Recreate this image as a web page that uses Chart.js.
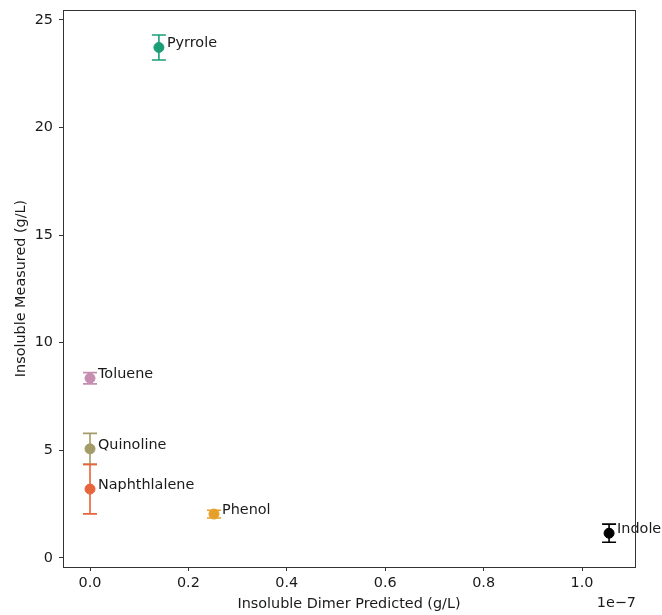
<!DOCTYPE html>
<html>
<head>
<meta charset="utf-8">
<script src="https://cdn.jsdelivr.net/npm/chart.js@4.4.1/dist/chart.umd.min.js"></script>
<style>
  html, body { margin: 0; padding: 0; background: #fff; }
  #wrap { width: 662px; height: 615px; position: relative; }
</style>
</head>
<body>
<div id="wrap"><canvas id="c" width="662" height="615"></canvas></div>
<script>
// ---- data ----
const compounds = ['Pyrrole', 'Toluene', 'Quinoline', 'Naphthlalene', 'Phenol', 'Indole'];
const predicted = [1.40e-8, 0.0, 0.0, 0.0, 2.52e-8, 1.055e-7];   // g/L
const measured = [23.72, 8.35, 5.07, 3.20, 2.04, 1.15];          // g/L
const measuredErr = [0.58, 0.26, 0.72, 1.15, 0.18, 0.42];
const colors = ['#1b9e77', '#c58db0', '#a39b68', '#e8643a', '#e6a02a', '#000000'];
const xTicks = [0, 0.2e-7, 0.4e-7, 0.6e-7, 0.8e-7, 1.0e-7];
const yTicks = [0, 5, 10, 15, 20, 25];

const FONT = 'DejaVu Sans';
const FS = 14.4;
const TXT = '#1a1a1a';

const errorBars = {
  id: 'errorBars',
  beforeDatasetsDraw(chart) {
    const ctx = chart.ctx, xs = chart.scales.x, ys = chart.scales.y;
    ctx.save();
    ctx.lineWidth = 1.6;
    for (let i = 0; i < measured.length; i++) {
      const px = xs.getPixelForValue(predicted[i]);
      const top = ys.getPixelForValue(measured[i] + measuredErr[i]);
      const bot = ys.getPixelForValue(measured[i] - measuredErr[i]);
      ctx.strokeStyle = colors[i];
      ctx.beginPath();
      ctx.moveTo(px, top); ctx.lineTo(px, bot);
      ctx.moveTo(px - 7, top); ctx.lineTo(px + 7, top);
      ctx.moveTo(px - 7, bot); ctx.lineTo(px + 7, bot);
      ctx.stroke();
    }
    ctx.restore();
  }
};

const labelsAndFrame = {
  id: 'labelsAndFrame',
  afterDatasetsDraw(chart) {
    const ctx = chart.ctx, xs = chart.scales.x, ys = chart.scales.y, a = chart.chartArea;
    ctx.save();
    ctx.font = FS + 'px "' + FONT + '"';
    ctx.fillStyle = TXT;
    ctx.textAlign = 'left';
    ctx.textBaseline = 'middle';
    for (let i = 0; i < compounds.length; i++) {
      const px = xs.getPixelForValue(predicted[i]);
      const py = ys.getPixelForValue(measured[i]);
      ctx.fillText(compounds[i], px + 8, py - 4);
    }
    // frame
    ctx.strokeStyle = '#333333';
    ctx.lineWidth = 1;
    ctx.strokeRect(Math.round(a.left) + 0.5, Math.round(a.top) + 0.5,
                   Math.round(a.right - a.left), Math.round(a.bottom - a.top));
    // offset text
    ctx.textAlign = 'right';
    ctx.textBaseline = 'middle';
    ctx.fillText('1e\u22127', a.right + 1, 603);
    ctx.restore();
  }
};

new Chart(document.getElementById('c'), {
  type: 'scatter',
  data: {
    datasets: [{
      data: predicted.map((x, i) => ({ x: x, y: measured[i] })),
      pointBackgroundColor: colors,
      pointBorderColor: colors,
      pointRadius: 5,
      pointHoverRadius: 5,
      showLine: false
    }]
  },
  options: {
    responsive: false,
    animation: false,
    events: [],
    layout: { padding: { left: 0, right: 27, top: 10, bottom: 0 } },
    plugins: { legend: { display: false }, tooltip: { enabled: false } },
    scales: {
      x: {
        type: 'linear',
        min: -0.0549e-7,
        max: 1.1077e-7,
        afterBuildTicks(s) { s.ticks = xTicks.map(v => ({ value: v })); },
        afterFit(s) { s.height = 48; s.paddingLeft = 0; s.paddingRight = 0; },
        border: { display: true, color: '#333333', width: 1 },
        grid: { display: true, drawOnChartArea: false, tickLength: 4, tickWidth: 1, tickColor: '#333333' },
        ticks: {
          color: TXT, font: { family: FONT, size: FS }, padding: 4, maxRotation: 0,
          callback: v => (v / 1e-7).toFixed(1)
        },
        title: {
          display: true, text: 'Insoluble Dimer Predicted (g/L)', color: TXT,
          font: { family: FONT, size: FS }, padding: { top: 2, bottom: 2 }
        }
      },
      y: {
        type: 'linear',
        min: -0.42,
        max: 25.46,
        afterBuildTicks(s) { s.ticks = yTicks.map(v => ({ value: v })); },
        afterFit(s) { s.width = 63; s.paddingTop = 0; s.paddingBottom = 0; },
        border: { display: true, color: '#333333', width: 1 },
        grid: { display: true, drawOnChartArea: false, tickLength: 4, tickWidth: 1, tickColor: '#333333' },
        ticks: {
          color: TXT, font: { family: FONT, size: FS }, padding: 6,
          callback: v => String(v)
        },
        title: {
          display: true, text: 'Insoluble Measured (g/L)', color: TXT,
          font: { family: FONT, size: FS }, padding: { top: 13, bottom: 0 }
        }
      }
    }
  },
  plugins: [errorBars, labelsAndFrame]
});
</script>
</body>
</html>
